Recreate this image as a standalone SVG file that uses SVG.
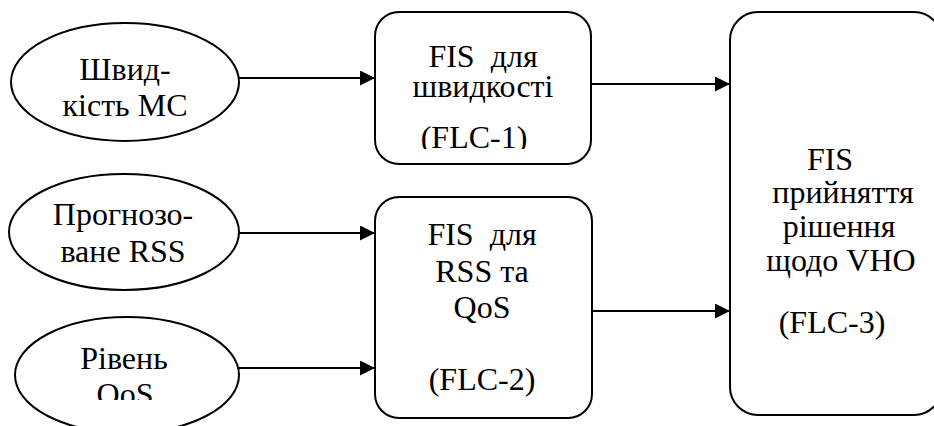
<svg xmlns="http://www.w3.org/2000/svg" width="934" height="426" viewBox="0 0 934 426">
  <style>
    .shape { fill: #ffffff; stroke: #000000; stroke-width: 2; }
    .edge { fill: none; stroke: #000000; stroke-width: 1.8; marker-end: url(#arrow); }
    .lbl { font-family: "Liberation Serif", Tinos, "Times New Roman", "Noto Serif", "DejaVu Serif", FreeSerif, "Nimbus Roman", Times, serif; font-size: 32px; fill: #000000; text-anchor: middle; }
  </style>
  <defs>
    <marker id="arrow" markerUnits="userSpaceOnUse" markerWidth="16" markerHeight="16" refX="15" refY="7.5" orient="auto">
      <path d="M0,0 L15,7.5 L0,15 z" fill="#000000"/>
    </marker>
    <clipPath id="clip-flc1"><rect x="375" y="12" width="216" height="137"/></clipPath>
    <clipPath id="clip-qos"><rect x="0" y="300" width="260" height="100"/></clipPath>
  </defs>

  <!-- connectors -->
  <g id="connectors">
    <line class="edge" x1="239" y1="78" x2="375" y2="78"/>
    <line class="edge" x1="239" y1="233" x2="375" y2="233"/>
    <line class="edge" x1="239" y1="368" x2="375" y2="368"/>
    <line class="edge" x1="591" y1="84" x2="730" y2="84"/>
    <line class="edge" x1="592" y1="311" x2="730" y2="311"/>
  </g>

  <!-- input: speed -->
  <g id="in-speed">
    <ellipse class="shape" cx="125" cy="82" rx="114" ry="59"/>
    <text class="lbl" x="125" y="80">Швид-</text>
    <text class="lbl" x="125" y="116">кість МС</text>
  </g>

  <!-- input: predicted RSS -->
  <g id="in-rss">
    <ellipse class="shape" cx="124" cy="232" rx="115" ry="58"/>
    <text class="lbl" x="123" y="225">Прогнозо-</text>
    <text class="lbl" x="123" y="262">ване RSS</text>
  </g>

  <!-- input: QoS level -->
  <g id="in-qos">
    <ellipse class="shape" cx="127" cy="375" rx="112" ry="58"/>
    <g clip-path="url(#clip-qos)">
      <text class="lbl" x="124" y="369">Рівень</text>
      <text class="lbl" x="125" y="405">QoS</text>
    </g>
  </g>

  <!-- FLC-1 -->
  <g id="flc1">
    <rect class="shape" x="375" y="12" width="216" height="152" rx="24" ry="24"/>
    <g clip-path="url(#clip-flc1)">
      <text class="lbl" x="483" y="67" xml:space="preserve">FIS  для</text>
      <text class="lbl" x="483" y="97">швидкості</text>
      <text class="lbl" x="474" y="148">(FLC-1)</text>
    </g>
  </g>

  <!-- FLC-2 -->
  <g id="flc2">
    <rect class="shape" x="375" y="197" width="217" height="221" rx="24" ry="24"/>
    <text class="lbl" x="482" y="245" xml:space="preserve">FIS  для</text>
    <text class="lbl" x="482" y="282">RSS та</text>
    <text class="lbl" x="482" y="318">QoS</text>
    <text class="lbl" x="482" y="390">(FLC-2)</text>
  </g>

  <!-- FLC-3 -->
  <g id="flc3">
    <rect class="shape" x="730" y="12" width="212" height="403" rx="28" ry="28"/>
    <text class="lbl" x="830" y="170">FIS</text>
    <text class="lbl" x="843" y="203">прийняття</text>
    <text class="lbl" x="839" y="237">рішення</text>
    <text class="lbl" x="841" y="271">щодо VHO</text>
    <text class="lbl" x="832" y="333">(FLC-3)</text>
  </g>
</svg>
